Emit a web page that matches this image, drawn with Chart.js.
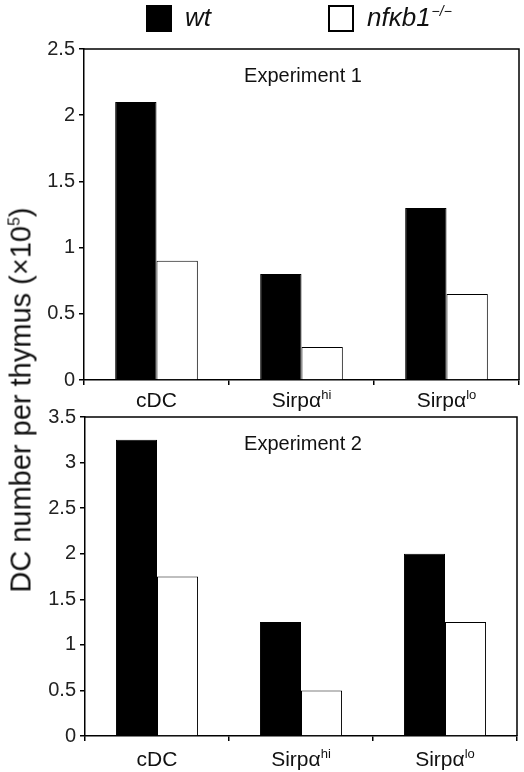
<!DOCTYPE html>
<html>
<head>
  <meta charset="utf-8">
  <title>DC number per thymus</title>
  <script src="https://cdn.jsdelivr.net/npm/chart.js"></script>
  <style>
    body {
      margin: 0;
      background: #fff;
      font-family: Arial, "Liberation Sans", sans-serif;
    }
    .wrap {
      position: relative;
      width: 524px;
      height: 772px;
    }
    canvas {
      position: absolute;
      left: 0;
    }
    #top { top: 0; }
    #bottom { top: 400px; }
    .ytitle {
      position: absolute;
      left: 21px;
      top: 400px;
      transform: translate(-50%, -50%) rotate(-90deg);
      white-space: nowrap;
      font-size: 29px;
      color: #111;
    }
    .ytitle sup { font-size: 16px; }
  </style>
</head>
<body>
  <div class="wrap">
    <canvas id="top" width="524" height="412"></canvas>
    <canvas id="bottom" width="524" height="372"></canvas>
    <div class="ytitle">DC number per thymus (×10<sup>5</sup>)</div>
  </div>

  <script>
    // categories (base text + superscript part)
    const categories = ['cDC', 'Sirpα', 'Sirpα'];
    const categorySup = ['', 'hi', 'lo'];
    const seriesNames = ['wt', 'nfκb1'];
    const seriesSup = ['', '−/−'];

    // Experiment 1
    const exp1Wt = [2.1, 0.8, 1.3];
    const exp1Ko = [0.9, 0.25, 0.65];
    const exp1Max = 2.5;

    // Experiment 2
    const exp2Wt = [3.25, 1.25, 2.0];
    const exp2Ko = [1.75, 0.5, 1.25];
    const exp2Max = 3.5;

    const FONT = 'Arial, "Liberation Sans", sans-serif';

    // draws box round plot area, category labels with superscripts, experiment label
    const decor = {
      id: 'decor',
      afterDraw(chart, args, opts) {
        const ctx = chart.ctx;
        const a = chart.chartArea;
        const xs = chart.scales.x;
        ctx.save();
        ctx.strokeStyle = '#000';
        ctx.lineWidth = 1.5;
        ctx.beginPath();
        ctx.moveTo(a.left, a.top);
        ctx.lineTo(a.right, a.top);
        ctx.lineTo(a.right, a.bottom);
        ctx.stroke();

        ctx.fillStyle = '#111';
        ctx.textBaseline = 'alphabetic';
        categories.forEach((c, i) => {
          const x = xs.getPixelForValue(i);
          ctx.font = '21px ' + FONT;
          const w1 = ctx.measureText(c).width;
          ctx.font = '13px ' + FONT;
          const w2 = ctx.measureText(categorySup[i]).width;
          const start = x - (w1 + w2) / 2;
          const y = a.bottom + opts.labelOffset;
          ctx.font = '21px ' + FONT;
          ctx.textAlign = 'left';
          ctx.fillText(c, start, y);
          ctx.font = '13px ' + FONT;
          ctx.fillText(categorySup[i], start + w1, y - 8);
        });

        ctx.font = '20px ' + FONT;
        ctx.textAlign = 'center';
        ctx.fillText(opts.label, opts.labelX, a.top + 33);
        ctx.restore();
      }
    };

    // legend drawn on the top chart
    const legendBoxes = {
      id: 'legendBoxes',
      afterDraw(chart) {
        const ctx = chart.ctx;
        const ds = chart.data.datasets;
        const items = [{ x: 146 }, { x: 328 }];
        ctx.save();
        items.forEach((it, i) => {
          ctx.fillStyle = ds[i].backgroundColor;
          ctx.fillRect(it.x, 5, 26, 27);
          ctx.strokeStyle = '#000';
          ctx.lineWidth = 2;
          ctx.strokeRect(it.x + 1, 6, 24, 25);
          ctx.fillStyle = '#111';
          ctx.font = 'italic 26px ' + FONT;
          ctx.textAlign = 'left';
          ctx.fillText(seriesNames[i], it.x + 39, 26);
          const w = ctx.measureText(seriesNames[i]).width;
          ctx.font = 'italic 14px ' + FONT;
          ctx.fillText(seriesSup[i], it.x + 39 + w + 1, 16);
        });
        ctx.restore();
      }
    };

    function makeChart(id, wt, ko, max, left, right, top, xHeight, label, labelOffset, extraPlugins) {
      return new Chart(document.getElementById(id), {
        type: 'bar',
        data: {
          labels: categories,
          datasets: [
            { label: 'wt', data: wt, backgroundColor: '#000', borderColor: '#000', borderWidth: 1 },
            { label: 'nfkb1-/-', data: ko, backgroundColor: '#fff', borderColor: '#000', borderWidth: 1 }
          ]
        },
        options: {
          responsive: false,
          animation: false,
          categoryPercentage: 0.57,
          barPercentage: 1,
          layout: { padding: { left: 0, right: right, top: top, bottom: 0 } },
          plugins: {
            legend: { display: false },
            tooltip: { enabled: false },
            decor: { label: label, labelX: 303, labelOffset: labelOffset }
          },
          scales: {
            x: {
              grid: { drawOnChartArea: false, offset: true, tickLength: 5, color: '#000', lineWidth: 1.5 },
              border: { color: '#000', width: 1.5 },
              ticks: { callback: () => '' },
              afterFit: s => { s.height = xHeight; }
            },
            y: {
              min: 0,
              max: max,
              ticks: {
                stepSize: 0.5,
                color: '#222',
                font: { size: 20, family: FONT },
                padding: 4,
                callback: v => String(v)
              },
              grid: { drawOnChartArea: false, tickLength: 5, color: '#000', lineWidth: 1.5 },
              border: { color: '#000', width: 1.5 },
              afterFit: s => { s.width = left; }
            }
          }
        },
        plugins: [decor].concat(extraPlugins)
      });
    }

    makeChart('top', exp1Wt, exp1Ko, exp1Max, 84, 5, 49, 32, 'Experiment 1', 27, [legendBoxes]);
    makeChart('bottom', exp2Wt, exp2Ko, exp2Max, 85, 7, 17, 36, 'Experiment 2', 30, []);
  </script>
</body>
</html>
